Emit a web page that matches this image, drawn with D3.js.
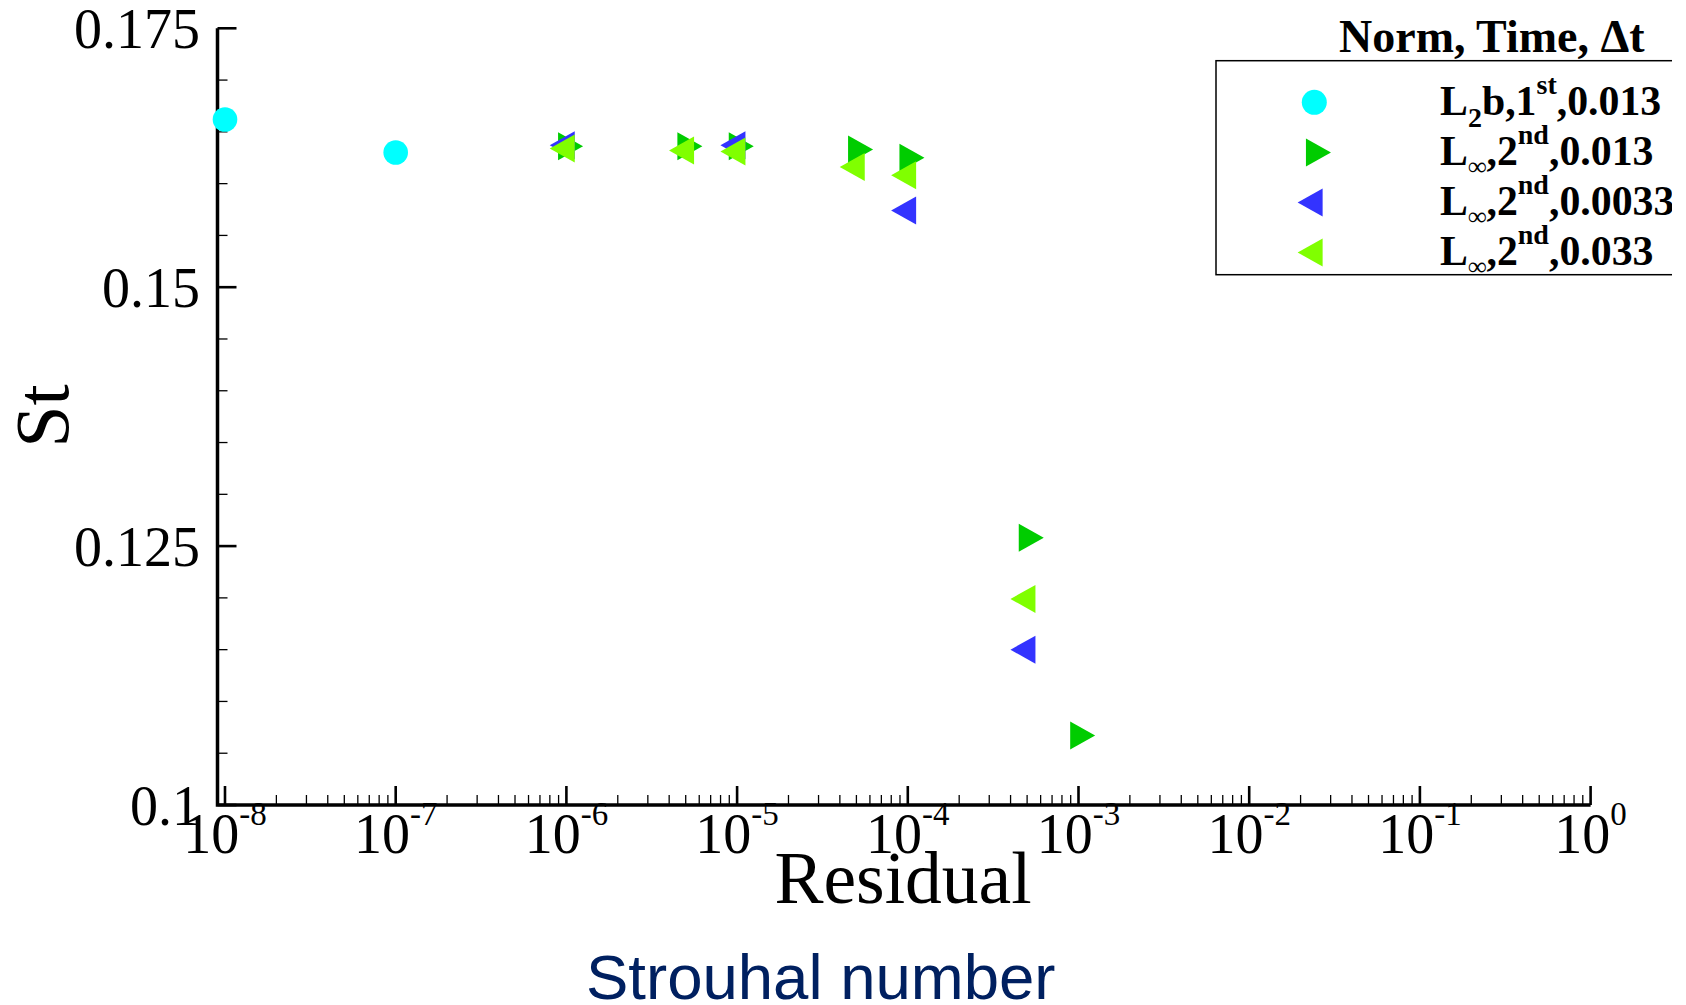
<!DOCTYPE html>
<html>
<head>
<meta charset="utf-8">
<script src="https://cdn.jsdelivr.net/npm/d3@7"></script>
<style>
html,body{margin:0;padding:0;background:#fff;}
svg{display:block;}
</style>
</head>
<body>
<svg id="chart" width="1686" height="1005"></svg>
<script>
// ---------------- DATA ----------------
const seriesNames = ["L2b,1st,0.013", "Linf,2nd,0.013", "Linf,2nd,0.0033", "Linf,2nd,0.033"];
const seriesColors = ["#00FFFF", "#00CC00", "#3333FF", "#80FF00"];
const seriesShapes = ["circle", "right", "left", "left"];

const resL2b = [1e-8, 1e-7];
const stL2b = [0.1662, 0.1630];

const resInf013 = [1e-6, 5e-6, 1e-5, 5e-5, 1e-4, 5e-4, 1e-3];
const stInf013 = [0.1636, 0.1636, 0.1636, 0.1633, 0.1625, 0.1258, 0.1067];

const resInf0033 = [1e-6, 1e-5, 1e-4, 5e-4];
const stInf0033 = [0.1637, 0.1637, 0.1574, 0.1150];

const resInf033 = [1e-6, 5e-6, 1e-5, 5e-5, 1e-4, 5e-4];
const stInf033 = [0.1634, 0.1632, 0.1631, 0.1616, 0.1608, 0.1199];

const xMajorExps = [-8, -7, -6, -5, -4, -3, -2, -1, 0];
const yMajorTicks = [0.1, 0.125, 0.15, 0.175];
const yTickLabels = ["0.1", "0.125", "0.15", "0.175"];

const xTitle = "Residual";
const yTitle = "St";
const legendTitle = "Norm, Time, \u0394t";
const caption = "Strouhal number";

// ---------------- LAYOUT ----------------
const svg = d3.select("#chart");
svg.append("rect").attr("width", 1686).attr("height", 1005).attr("fill", "#fff");
svg.append("defs").append("clipPath").attr("id", "legclip")
  .append("rect").attr("x", 0).attr("y", 0).attr("width", 1672).attr("height", 1005);

const x = d3.scaleLog().domain([Math.pow(10, -8.0439), 1]).range([217.5, 1590.6]);
const y = d3.scaleLinear().domain([0.1, 0.175]).range([805, 28.3]);

const serif = "'Liberation Serif','Times New Roman',Times,serif";
const sans = "'Liberation Sans',Arial,Helvetica,sans-serif";

const gAxes = svg.append("g");

// minor x ticks
const xMinor = [];
for (let e = -8; e < 0; e++) for (let k = 2; k <= 9; k++) xMinor.push(k * Math.pow(10, e));
gAxes.selectAll("line.xminor").data(xMinor).enter().append("line")
  .attr("x1", d => x(d)).attr("x2", d => x(d))
  .attr("y1", y(0.1)).attr("y2", y(0.1) - 10)
  .attr("stroke", "#000").attr("stroke-width", 1.3);
gAxes.selectAll("line.xmajor").data(xMajorExps).enter().append("line")
  .attr("x1", d => x(Math.pow(10, d))).attr("x2", d => x(Math.pow(10, d)))
  .attr("y1", y(0.1)).attr("y2", y(0.1) - 19)
  .attr("stroke", "#000").attr("stroke-width", 2.6);

// y ticks
const yMinor = d3.range(0, 16).map(i => 0.1 + i * 0.005).filter((d, i) => i % 5 !== 0);
gAxes.selectAll("line.yminor").data(yMinor).enter().append("line")
  .attr("x1", x.range()[0]).attr("x2", x.range()[0] + 10)
  .attr("y1", d => y(d)).attr("y2", d => y(d))
  .attr("stroke", "#000").attr("stroke-width", 1.3);
gAxes.selectAll("line.ymajor").data(yMajorTicks).enter().append("line")
  .attr("x1", x.range()[0]).attr("x2", x.range()[0] + 19)
  .attr("y1", d => y(d)).attr("y2", d => y(d))
  .attr("stroke", "#000").attr("stroke-width", 2.6);

// axis lines
gAxes.append("path")
  .attr("d", `M${x.range()[0]},${y(0.175)} L${x.range()[0]},${y(0.1)} L${x.range()[1]},${y(0.1)}`)
  .attr("fill", "none").attr("stroke", "#000").attr("stroke-width", 3.5).attr("stroke-linejoin", "miter");

// y tick labels
gAxes.selectAll("text.ylab").data(yMajorTicks).enter().append("text")
  .attr("x", 200).attr("y", d => y(d) + 19.5)
  .attr("text-anchor", "end")
  .attr("font-family", serif).attr("font-size", 56)
  .text((d, i) => yTickLabels[i]);

// x tick labels
const xl = gAxes.selectAll("text.xlab").data(xMajorExps).enter().append("text")
  .attr("x", d => x(Math.pow(10, d))).attr("y", y(0.1) + 47.7)
  .attr("text-anchor", "middle")
  .attr("font-family", serif).attr("font-size", 56);
xl.append("tspan").text("10");
xl.append("tspan").attr("font-size", 33).attr("dy", -27.7).text(d => d < 0 ? "-" + (-d) : String(d));

// axis titles
svg.append("text").attr("x", 903).attr("y", 902.7).attr("text-anchor", "middle")
  .attr("font-family", serif).attr("font-size", 73.5).text(xTitle);
svg.append("text").attr("transform", "translate(68,416) rotate(-90)").attr("text-anchor", "middle")
  .attr("font-family", serif).attr("font-size", 76).text(yTitle);

// caption
svg.append("text").attr("x", 586).attr("y", 999.3)
  .attr("font-family", sans).attr("font-size", 63.5).attr("fill", "#002060").text(caption);

// ---------------- MARKERS ----------------
const triW = 25, triH = 28;
function markerPath(shape) {
  if (shape === "right") return `M${-triW/3},${-triH/2} L${2*triW/3},0 L${-triW/3},${triH/2} Z`;
  if (shape === "left") return `M${triW/3},${-triH/2} L${-2*triW/3},0 L${triW/3},${triH/2} Z`;
  return null;
}
function drawMarkers(g, xs, ys, shape, color) {
  const data = xs.map((v, i) => ({ r: v, st: ys[i] }));
  if (shape === "circle") {
    g.selectAll("circle").data(data).enter().append("circle")
      .attr("cx", d => x(d.r)).attr("cy", d => y(d.st)).attr("r", 12.3).attr("fill", color);
  } else {
    g.selectAll("path").data(data).enter().append("path")
      .attr("transform", d => `translate(${x(d.r)},${y(d.st)})`)
      .attr("d", markerPath(shape)).attr("fill", color);
  }
}
const seriesX = [resL2b, resInf013, resInf0033, resInf033];
const seriesY = [stL2b, stInf013, stInf0033, stInf033];
const gData = svg.append("g");
seriesX.forEach((xs, i) => drawMarkers(gData.append("g"), xs, seriesY[i], seriesShapes[i], seriesColors[i]));

// ---------------- LEGEND ----------------
const gLeg = svg.append("g").attr("clip-path", "url(#legclip)");
gLeg.append("rect").attr("x", 1216).attr("y", 60.7).attr("width", 600).attr("height", 214)
  .attr("fill", "none").attr("stroke", "#000").attr("stroke-width", 1.5);
gLeg.append("text").attr("x", 1339).attr("y", 51.7)
  .attr("font-family", serif).attr("font-weight", "bold").attr("font-size", 46).text(legendTitle);

const legRows = [102.3, 152.5, 202.5, 252.5];
// label parts: [text, size, dy]
const legLabels = [
  [["L", 41.8, 0], ["2", 28, 11.7], ["b,1", 41.8, -11.7], ["st", 28, -20.7], [",0.013", 41.8, 20.7]],
  [["L", 41.8, 0], ["\u221E", 26, 10], [",2", 41.8, -10], ["nd", 28, -21.7], [",0.013", 41.8, 21.7]],
  [["L", 41.8, 0], ["\u221E", 26, 10], [",2", 41.8, -10], ["nd", 28, -21.7], [",0.0033", 41.8, 21.7]],
  [["L", 41.8, 0], ["\u221E", 26, 10], [",2", 41.8, -10], ["nd", 28, -21.7], [",0.033", 41.8, 21.7]]
];
seriesNames.forEach((name, i) => {
  const cy = legRows[i];
  if (seriesShapes[i] === "circle") {
    gLeg.append("circle").attr("cx", 1314.3).attr("cy", cy).attr("r", 12.5).attr("fill", seriesColors[i]);
  } else {
    gLeg.append("path").attr("transform", `translate(1314.3,${cy})`)
      .attr("d", markerPath(seriesShapes[i])).attr("fill", seriesColors[i]);
  }
  const t = gLeg.append("text").attr("x", 1440).attr("y", cy + 12.7)
    .attr("font-family", serif).attr("font-weight", "bold").attr("font-size", 41.8)
    .attr("data-series", name);
  legLabels[i].forEach(p => t.append("tspan").attr("font-size", p[1]).attr("dy", p[2]).text(p[0]));
});
</script>
</body>
</html>
